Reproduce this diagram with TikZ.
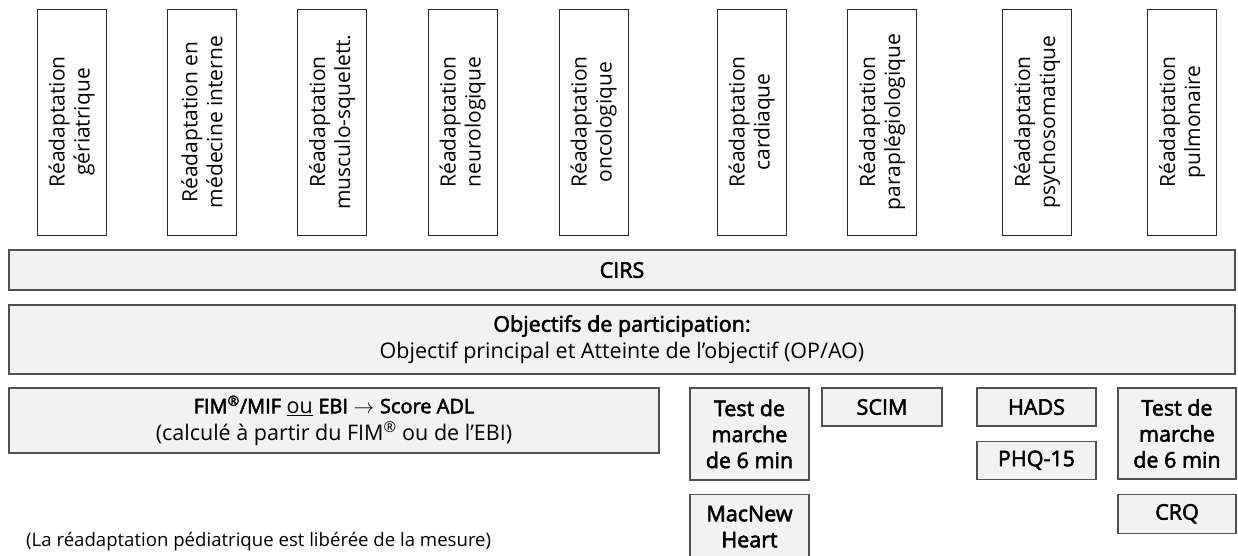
\documentclass[tikz,border=0pt]{standalone}
\usepackage{fontspec}
\setmainfont{Open Sans}
\newfontfamily\semib{Open Sans}[FakeBold=2.5]
\usetikzlibrary{positioning}
\definecolor{boxgray}{HTML}{F2F2F2}
\definecolor{linegray}{HTML}{505050}

\begin{document}
\begin{tikzpicture}[x=1pt, y=-1pt,
    rehab/.style={draw=black!85, line width=0.9pt, fill=white, rotate=90,
      minimum width=226pt, minimum height=69pt, inner sep=0pt, align=center,
      font=\fontsize{21}{25}\selectfont},
    bar/.style={draw=linegray, line width=1.5pt, fill=boxgray, inner sep=0pt,
      align=center, font=\fontsize{21.5}{27}\selectfont},
    tool/.style={draw=linegray, line width=1.2pt, fill=boxgray, inner sep=0pt,
      align=center, minimum width=119pt, font=\fontsize{21.5}{26}\selectfont\semib}]
  \useasboundingbox (0,0) rectangle (1238,555);

  % rehabilitation types
  \node [rehab](ger) at (71.5,122) {Réadaptation\\gériatrique};
  \node [rehab](med) at (202,122) {Réadaptation en\\médecine interne};
  \node [rehab](mus) at (332,122) {Réadaptation\\musculo-squelett.};
  \node [rehab](neu) at (462.5,122) {Réadaptation\\neurologique};
  \node [rehab](onc) at (593.5,122) {Réadaptation\\oncologique};
  \node [rehab](car) at (751.5,122) {Réadaptation\\cardiaque};
  \node [rehab](par) at (882,122) {Réadaptation\\paraplégiologique};
  \node [rehab](psy) at (1037,122) {Réadaptation\\psychosomatique};
  \node [rehab](pul) at (1182,122) {Réadaptation\\pulmonaire};

  % common measures
  \node [bar, minimum width=1226pt, minimum height=40pt](cirs) at (622,270) {\semib CIRS};
  \node [bar, minimum width=1226pt, minimum height=69pt](obj) at (622,339.5)
    {{\semib Objectifs de participation:}\\Objectif principal et Atteinte de l’objectif (OP/AO)};
  \node [bar, minimum width=650pt, minimum height=65pt](fim) at (334,420.5)
    {{\fontsize{20}{27}\selectfont\semib FIM\textsuperscript{®}/MIF} \underline{ou} {\fontsize{20}{27}\selectfont\semib EBI}
     $\rightarrow$ {\fontsize{20}{27}\selectfont\semib Score ADL}\\(calculé à partir du FIM\textsuperscript{®} ou de l’EBI)};

  % specific measures
  \node [tool, minimum height=92pt](walka) at (749.5,434) {Test de\\marche\\de 6 min};
  \node [tool, minimum height=65pt, below=13pt of walka](mac) {MacNew\\Heart};
  \node [tool, minimum width=120pt, minimum height=38pt](scim) at (882,407) {SCIM};
  \node [tool, minimum height=38pt](hads) at (1036.5,407) {HADS};
  \node [tool, minimum height=38pt, below=14pt of hads](phq) {PHQ-15};
  \node [tool, minimum width=118pt, minimum height=91pt](walkb) at (1177,433.5) {Test de\\marche\\de 6 min};
  \node [tool, minimum width=118pt, minimum height=39pt, below=14pt of walkb](crq) {CRQ};

  \node [anchor=west, inner sep=0pt, font=\fontsize{18.6}{21}\selectfont](note) at (26,542)
    {(La réadaptation pédiatrique est libérée de la mesure)};
\end{tikzpicture}
\end{document}
